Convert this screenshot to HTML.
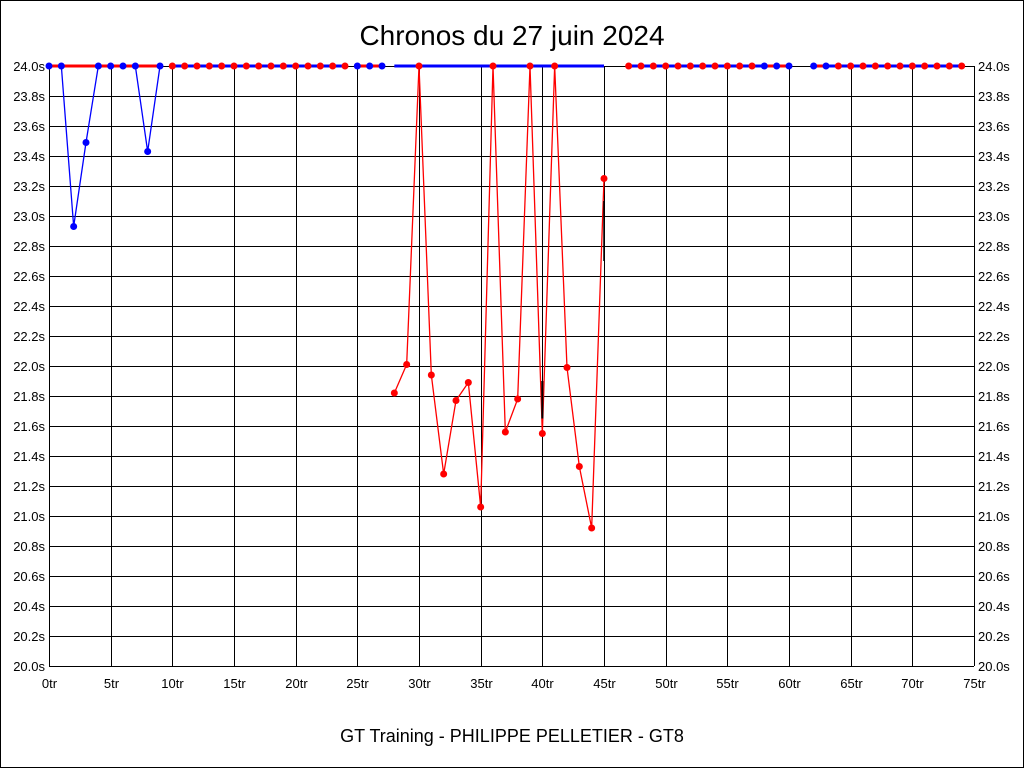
<!DOCTYPE html>
<html><head><meta charset="utf-8"><style>
html,body{margin:0;padding:0;background:#fff}
svg{display:block}
text{font-family:"Liberation Sans",sans-serif;fill:#000}
</style></head><body>
<svg id="s" width="1024" height="768" xmlns="http://www.w3.org/2000/svg">
<rect x="0.5" y="0.5" width="1023" height="767" fill="#fff" stroke="#000"/>
<text x="512" y="45" font-size="28" text-anchor="middle">Chronos du 27 juin 2024</text>
<text x="512" y="742" font-size="18" text-anchor="middle">GT Training - PHILIPPE PELLETIER - GT8</text>
<g id="grid"></g><g id="data"></g>
</svg>
<script>
var NS="http://www.w3.org/2000/svg";
function el(p,t,a,txt){var e=document.createElementNS(NS,t);for(var k in a)e.setAttribute(k,a[k]);if(txt!=null)e.textContent=txt;p.appendChild(e);return e;}
var g=document.getElementById('grid'),d=document.getElementById('data');
var X0=49,X1=974,Y0=66,Y1=666;
function X(t){return X0+t*(X1-X0)/75;}
function Y(v){return Y0+(24-v)*150;}
for(var i=0;i<=20;i++){var v=24-i*0.2,y=Y(v);
 el(g,'line',{x1:X0,x2:X1,y1:y+.5,y2:y+.5,stroke:'#000'});
 el(g,'text',{x:45,y:y+5,'font-size':13,'text-anchor':'end'},v.toFixed(1)+'s');
 el(g,'text',{x:978,y:y+5,'font-size':13},v.toFixed(1)+'s');}
for(var t=0;t<=75;t+=5){var x=Math.round(X(t))+.5;
 el(g,'line',{x1:x,x2:x,y1:Y0,y2:Y1,stroke:'#000'});
 el(g,'text',{x:x,y:688,'font-size':13,'text-anchor':'middle'},t+'tr');}
var R='#f00',B='#00f';
function seg(a,b,c){el(d,'line',{x1:X(a),x2:X(b),y1:Y(24),y2:Y(24),stroke:c,'stroke-width':3});}
function dot(t,v,c){el(d,'circle',{cx:X(t),cy:Y(v),r:3.5,fill:c});}
seg(0,9,R);
for(var t=10;t<24;t++)seg(t,t+1,B);
seg(25,27,R);seg(28,45,B);
for(var t=47;t<58;t++)seg(t,t+1,B);
seg(58,60,R);seg(62,63,R);
for(var t=63;t<74;t++)seg(t,t+1,B);
function poly(pts,c){el(d,'polyline',{points:pts.map(function(p){return X(p[0])+','+Y(p[1])}).join(' '),fill:'none',stroke:c,'stroke-width':1.3});}
var b1=[[1,24],[2,22.93],[3,23.49],[4,24]],b2=[[7,24],[8,23.43],[9,24]];
poly(b1,B);poly(b2,B);
var rs=[[28,21.82],[29,22.01],[30,24],[31,21.94],[32,21.28],[33,21.77],[34,21.89],[35,21.06],[36,24],[37,21.56],[38,21.78],[39,24],[40,21.55],[41,24],[42,21.99],[43,21.33],[44,20.92],[45,23.25]];
poly(rs,R);
el(d,'line',{x1:X(40),x2:X(40),y1:Y(21.9),y2:Y(21.65),stroke:'#000','stroke-width':2});
el(d,'line',{x1:X(45),x2:X(45),y1:Y(23.1),y2:Y(22.7),stroke:'#000','stroke-width':1.5});
[0,1,4,5,6,7,9].forEach(function(t){dot(t,24,B)});
b1.slice(1,3).forEach(function(p){dot(p[0],p[1],B)});dot(8,23.43,B);
for(var t=10;t<=24;t++)dot(t,24,R);
[25,26,27].forEach(function(t){dot(t,24,B)});
rs.forEach(function(p){dot(p[0],p[1],R)});
for(var t=47;t<=57;t++)dot(t,24,R);
[58,59,60,62,63].forEach(function(t){dot(t,24,B)});
for(var t=64;t<=74;t++)dot(t,24,R);
</script>
</body></html>
